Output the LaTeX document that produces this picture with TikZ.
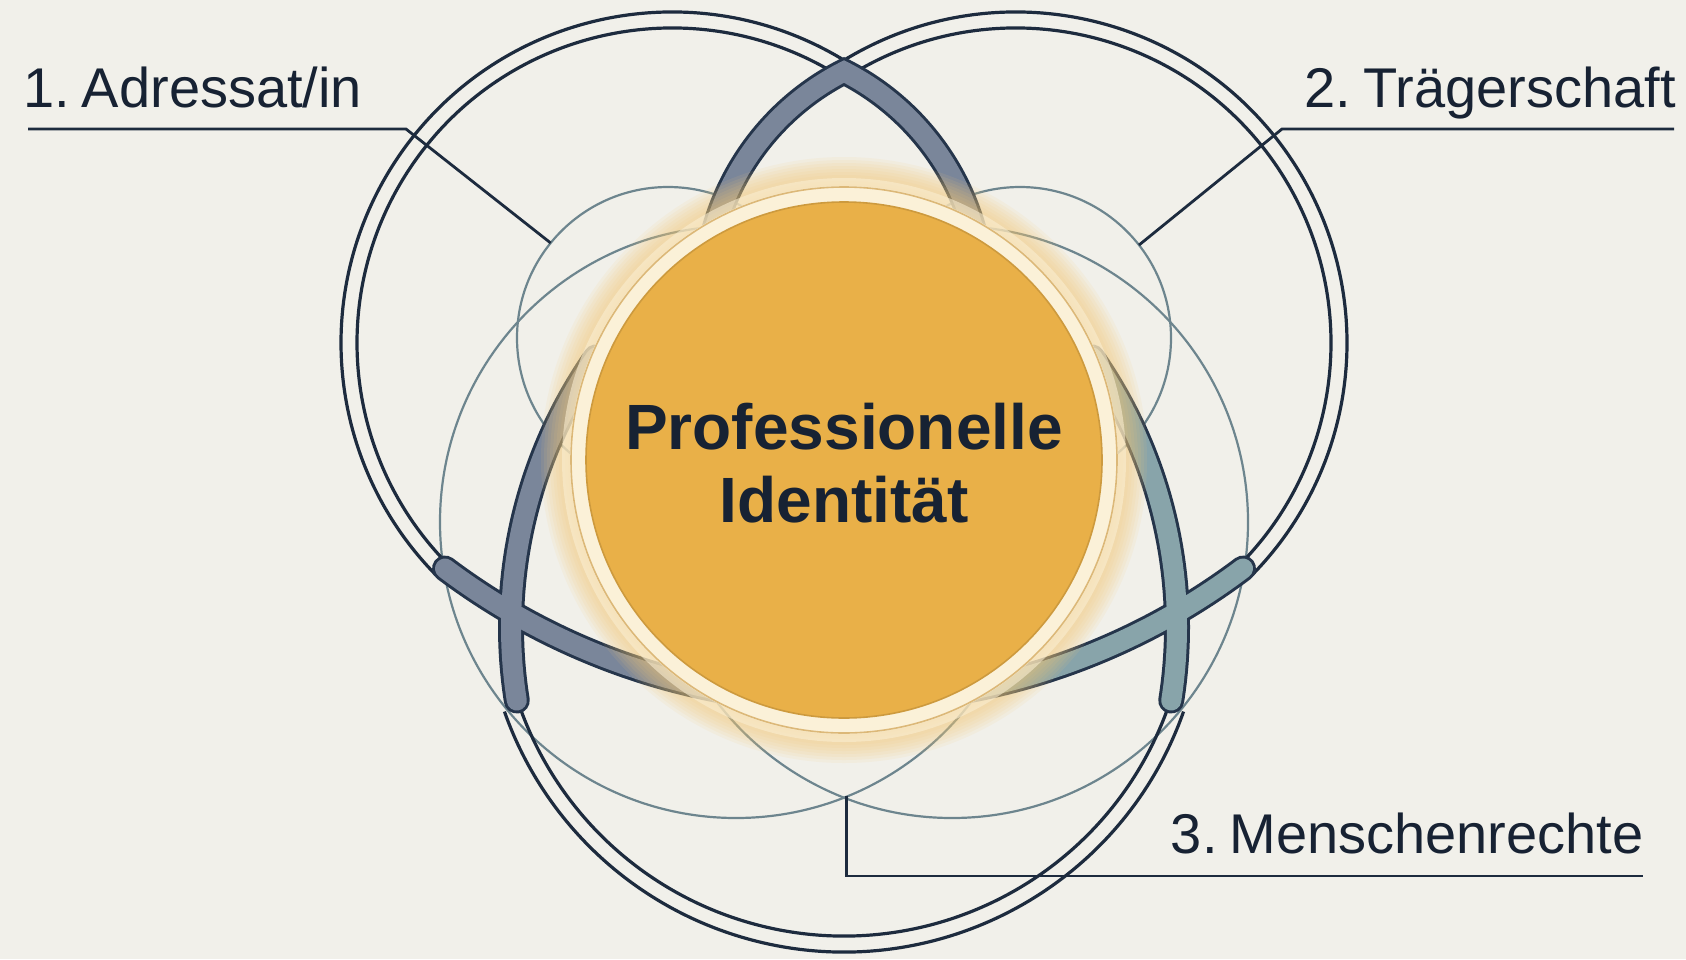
\documentclass[tikz,border=0pt]{standalone}
\usepackage{fontspec}
\setmainfont{Liberation Sans}
\usetikzlibrary{calc}

\definecolor{paper}{HTML}{F1F0EA}
\definecolor{ink}{HTML}{172233}
\definecolor{navy}{HTML}{1D2B3E}
\definecolor{bandedge}{HTML}{25354B}
\definecolor{bandslate}{HTML}{7A869A}
\definecolor{bandteal}{HTML}{88A4AA}
\definecolor{thin}{HTML}{6D858E}
\definecolor{gold}{HTML}{E9B048}
\definecolor{goldedge}{HTML}{CD9A3E}
\definecolor{cream}{HTML}{FBF1D8}
\definecolor{halo}{HTML}{F4C977}

\newcommand\tagfont{\fontsize{28}{33}\selectfont\spaceskip 0.12em\relax}

\tikzset{
	ring/.style={draw=navy, line width=1.6pt},
	thinring/.style={circle, draw=thin, line width=1.1pt, inner sep=0pt, outer sep=0pt},
	bandline/.style={line width=13pt, line cap=round},
	bandfill/.style={line width=10pt, line cap=round},
	leader/.style={draw=navy, line width=1.4pt},
	tag/.style={font=\tagfont, text=ink, inner sep=0pt},
	core/.style={font=\bfseries\fontsize{32}{36.5}\selectfont, align=center, text=ink, inner sep=0pt},
}

\newcommand\bandpieces[3]{%
	\begin{scope}
		\clip (0,0) rectangle (844,959);
		\draw[#1, #2] ($(bTL)+(-110:254)$) arc[start angle=-110, end angle=-170, radius=254];
	\end{scope}
	\begin{scope}
		\clip (844,0) rectangle (1686,959);
		\draw[#1, #2] ($(bTR)+(-70:254)$) arc[start angle=-70, end angle=-10, radius=254];
	\end{scope}
	\draw[#1, #2] ($(bXL)+(215:470)$) arc[start angle=215, end angle=171, radius=470];
	\draw[#1, #3] ($(bXR)+(-35:470)$) arc[start angle=-35, end angle=9, radius=470];
	\draw[#1, #2] ($(bBo)+(127:663)$) arc[start angle=127, end angle=90, radius=663];
	\draw[#1, #3] ($(bBo)+(90:663)$) arc[start angle=90, end angle=53, radius=663];
}

\begin{document}
\begin{tikzpicture}[x=0.5pt, y=-0.5pt]
	\useasboundingbox[fill=paper] (0,0) rectangle (1686,959);
	%
	\coordinate (O) at (844,460);
	\coordinate (rL) at (672,343);
	\coordinate (rR) at (1016,343);
	\coordinate (rB) at (844,592);
	\coordinate (bTL) at (959,298);
	\coordinate (bTR) at (729,298);
	\coordinate (bXL) at (981,627);
	\coordinate (bXR) at (707,627);
	\coordinate (bBo) at (844,39);
	%
	\node[thinring, minimum size=151pt] (cA) at (668,338) {};
	\node[thinring, minimum size=151pt] (cB) at (1020,338) {};
	\node[thinring, minimum size=296pt] (cC) at (736,522) {};
	\node[thinring, minimum size=296pt] (cD) at (952,522) {};
	%
	\foreach \r in {331,315} {
		\draw[ring] ($(rL)+(-58:\r)$) arc[start angle=-58, end angle=-224.6, radius=\r];
		\draw[ring] ($(rR)+(-122:\r)$) arc[start angle=-122, end angle=44.6, radius=\r];
	}
	\foreach \r in {360,344}
		\draw[ring] ($(rB)+(19.4:\r)$) arc[start angle=19.4, end angle=160.6, radius=\r];
	%
	\bandpieces{bandline}{bandedge}{bandedge}
	\bandpieces{bandfill}{bandslate}{bandteal}
	%
	\foreach \r in {303,300,...,276}
		\fill[halo, opacity=0.1] (O) circle (\r);
	\fill[cream, opacity=0.55] (O) circle (282);
	\fill[cream] (O) circle (274);
	\draw[goldedge!70, line width=0.8pt] (O) circle (273);
	\fill[gold] (O) circle (258);
	\draw[goldedge, line width=0.8pt] (O) circle (258);
	\node[core] (core) at (844,463) {Professionelle\\Identität};
	%
	\node[tag, anchor=base west] (lab1) at (23,107) {1. Adressat/in};
	\node[tag, anchor=base east] (lab2) at (1676,107) {2. Trägerschaft};
	\node[tag, anchor=base east] (lab3) at (1644,853) {3. Menschenrechte};
	%
	\draw[leader] ($(lab1.base west)+(5,22)$) -- ($(lab1.base west)+(383,22)$) -- (cA.141.7);
	\draw[leader] ($(lab2.base east)+(-2,22)$) -- ($(lab2.base east)+(-394,22)$) -- (cB.38.3);
	\draw[leader] (cC.-68.6) |- ($(lab3.base east)+(-1,23)$);
\end{tikzpicture}
\end{document}
